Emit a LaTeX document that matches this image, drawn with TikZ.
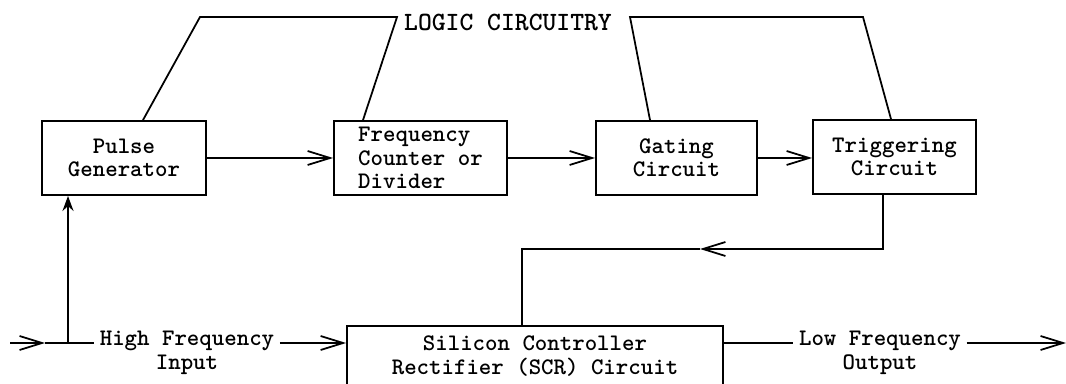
\documentclass[tikz,border=0pt]{standalone}
\usepackage{fontspec}
\usetikzlibrary{arrows.meta,positioning}

\begin{document}
\begin{tikzpicture}[x=0.02cm, y=-0.02cm,
  txt/.style={font=\ttfamily\bfseries\fontsize{13.5}{13.2}\selectfont},
  blk/.style={draw, rectangle, txt, line width=1.1pt, minimum height=1.48cm, align=center},
  lbl/.style={txt, inner sep=3pt},
  wire/.style={line width=1pt},
  arr/.style={wire, -{Straight Barb[length=4.5mm, width=2.8mm]}},
  uparr/.style={wire, -{Stealth[length=3mm, width=2.2mm]}}]

\useasboundingbox (0,0) rectangle (1066,384);

% Define boxes
\node[blk, minimum width=3.28cm] (pg) at (124,158) {Pulse\\Generator};
\node[blk, minimum width=3.46cm, align=left] (fc) at (420.5,158) {Frequency\\Counter or\\Divider};
\node[blk, minimum width=3.22cm] (gc) at (676.5,158) {Gating\\Circuit};
\node[blk, minimum width=3.26cm] (tc) at (894.5,157) {Triggering\\Circuit};
\node[blk, minimum width=7.52cm, minimum height=1.2cm] (scr) at (535,356) {Silicon Controller\\Rectifier (SCR) Circuit};

% Logic circuitry
\node[lbl, font=\ttfamily\bfseries\fontsize{15}{15}\selectfont] (logic) at (508,22) {LOGIC CIRCUITRY};
\coordinate (l1) at (200,17);
\coordinate (l2) at (397,17);
\coordinate (r1) at (630,17);
\coordinate (r2) at (863,17);
\draw[wire] ([xshift=0.38cm]pg.north) -- (l1) -- (l2) -- ([xshift=-1.15cm]fc.north);
\draw[wire] ([xshift=-0.53cm]gc.north) -- (r1) -- (r2) -- ([xshift=-0.07cm]tc.north);

% Draw arrows
\draw[arr] (pg.east) -- (pg.east -| fc.west);
\draw[arr] (fc.east) -- (fc.east -| gc.west);
\draw[arr] (gc.east) -- (gc.east -| tc.west);

% Feedback to SCR
\coordinate (fbm) at (700,249);
\coordinate (fb2) at (522,249);
\draw[arr] ([xshift=-0.23cm]tc.south) |- (fbm);
\draw[wire] (fbm) -- (fb2) -- (fb2 |- scr.north);

% Input
\coordinate (in) at (10,343);
\coordinate (inh) at (45,343);
\coordinate (jn) at (68,343);
\node[lbl] (hf) at (187,341) {High Frequency};
\node[lbl, anchor=base] (hfi) at ([yshift=-0.47cm]hf.base) {Input};
\draw[arr] (in) -- (inh);
\draw[wire] (inh) -- (hf.west |- in);
\draw[uparr] (jn) -- (jn |- pg.south);
\draw[arr] (hf.east |- in) -- (scr.west |- in);

% Output
\node[lbl] (lf) at (880,341) {Low Frequency};
\node[lbl, anchor=base] (lfo) at ([yshift=-0.47cm]lf.base) {Output};
\coordinate (out) at (1066,343);
\draw[wire] (scr.east |- out) -- (lf.west |- out);
\draw[arr] (lf.east |- out) -- (out);

\end{tikzpicture}
\end{document}
